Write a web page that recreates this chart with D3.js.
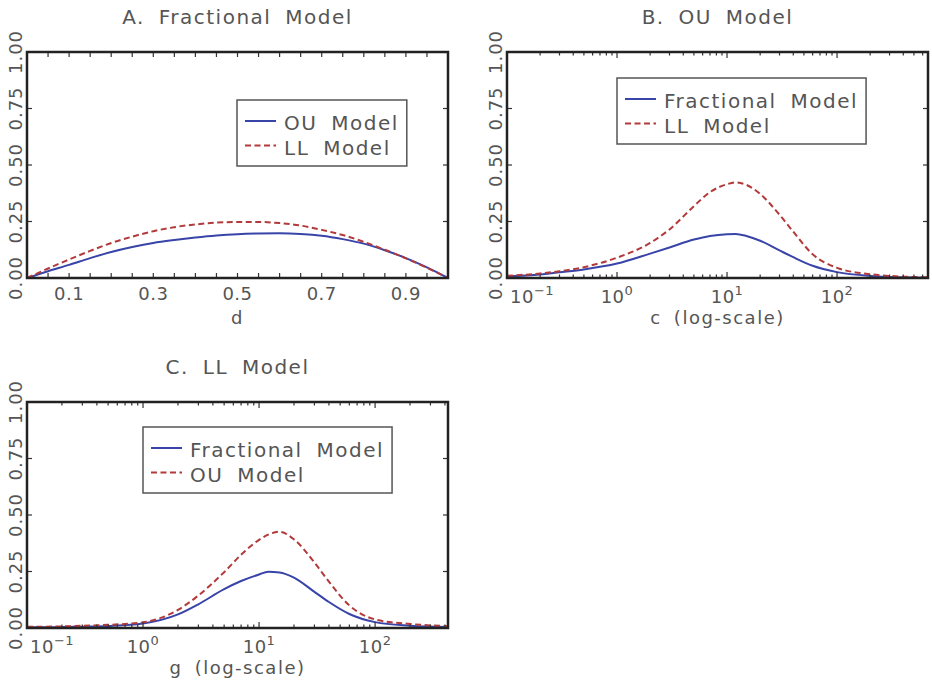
<!DOCTYPE html>
<html>
<head>
<meta charset="utf-8">
<script src="https://cdn.jsdelivr.net/npm/d3@7"></script>
<style>
  body { margin: 0; background: #fff; }
  svg { display: block; }
  text { font-family: "DejaVu Sans", sans-serif; fill: #555; }
</style>
</head>
<body>
<svg id="chart" width="932" height="682"></svg>
<script>
// panel A: fractional model, x = d
const dVals = [0, 0.05, 0.1, 0.15, 0.2, 0.25, 0.3, 0.35, 0.4, 0.45, 0.5, 0.55, 0.6, 0.65, 0.7, 0.75, 0.8, 0.85, 0.9, 0.95, 1];
const fracOU = [0, 0.03, 0.058, 0.088, 0.115, 0.137, 0.155, 0.168, 0.179, 0.188, 0.194, 0.197, 0.198, 0.195, 0.187, 0.172, 0.152, 0.123, 0.088, 0.047, 0];
const fracLL = [0, 0.042, 0.082, 0.12, 0.155, 0.183, 0.207, 0.225, 0.237, 0.245, 0.248, 0.248, 0.243, 0.232, 0.213, 0.19, 0.16, 0.125, 0.087, 0.045, 0];

// panel B: OU model, x = c
const cVals = [0.1, 0.2, 0.3, 0.5, 1, 2, 3, 5, 7, 10, 12, 15, 20, 30, 40, 60, 100, 200, 400, 671];
const ouFrac = [0.007, 0.015, 0.025, 0.038, 0.064, 0.108, 0.135, 0.17, 0.186, 0.194, 0.195, 0.186, 0.165, 0.122, 0.092, 0.054, 0.026, 0.009, 0.003, 0.001];
const ouLL = [0.01, 0.02, 0.03, 0.048, 0.09, 0.155, 0.215, 0.318, 0.38, 0.415, 0.423, 0.412, 0.372, 0.28, 0.205, 0.105, 0.045, 0.017, 0.006, 0.003];

// panel C: LL model, x = g
const gVals = [0.1, 0.2, 0.3, 0.5, 1, 2, 3, 5, 7, 10, 12, 15, 20, 30, 40, 60, 100, 200, 425];
const llFrac = [0.003, 0.004, 0.006, 0.009, 0.02, 0.06, 0.105, 0.172, 0.208, 0.237, 0.249, 0.246, 0.223, 0.16, 0.115, 0.062, 0.026, 0.01, 0.004];
const llOU = [0.005, 0.007, 0.01, 0.014, 0.025, 0.08, 0.144, 0.247, 0.324, 0.39, 0.413, 0.426, 0.392, 0.29, 0.205, 0.1, 0.038, 0.018, 0.008];

const yTicks = [0, 0.25, 0.5, 0.75, 1];
const linTicks = [0.1, 0.3, 0.5, 0.7, 0.9];
const logTicks = [0.1, 1, 10, 100];

const blue = "#3944a8", red = "#b23a3a";

const svg = d3.select("#chart");

const panels = [
  { title: "A. Fractional Model", xlabel: "d", x: 27, y: 52, xs: dVals, log: false, domain: [0, 1],
    series: [{ name: "OU Model", vals: fracOU, color: blue }, { name: "LL Model", vals: fracLL, color: red, dash: true }],
    legend: [210, 48] },
  { title: "B. OU Model", xlabel: "c (log-scale)", x: 507, y: 52, xs: cVals, log: true, domain: [0.1, 671],
    series: [{ name: "Fractional Model", vals: ouFrac, color: blue }, { name: "LL Model", vals: ouLL, color: red, dash: true }],
    legend: [110, 26] },
  { title: "C. LL Model", xlabel: "g (log-scale)", x: 27, y: 402, xs: gVals, log: true, domain: [0.1, 425],
    series: [{ name: "Fractional Model", vals: llFrac, color: blue }, { name: "OU Model", vals: llOU, color: red, dash: true }],
    legend: [116, 25] }
];

const pw = 421, ph = 226;

panels.forEach(p => {
  const g = svg.append("g").attr("transform", `translate(${p.x},${p.y})`);
  const x = (p.log ? d3.scaleLog() : d3.scaleLinear()).domain(p.domain).range([0, pw]);
  const y = d3.scaleLinear().domain([0, 1]).range([ph, 0]);

  // curves
  const line = d3.line().x(d => x(d[0])).y(d => y(d[1])).curve(d3.curveMonotoneX);
  p.series.forEach(s => {
    g.append("path")
      .datum(p.xs.map((v, i) => [v, s.vals[i]]))
      .attr("d", line)
      .attr("fill", "none")
      .attr("stroke", s.color)
      .attr("stroke-width", 2)
      .attr("stroke-dasharray", s.dash ? "6,3.5" : null);
  });

  // x ticks, both edges, pointing in
  let xt;
  if (p.log) {
    xt = [];
    logTicks.concat([1000]).forEach(dec => {
      for (let k = 1; k < 10; k++) {
        const val = dec / 10 * k;
        if (val > p.domain[0] * 1.0001 && val <= p.domain[1]) xt.push({ v: val, major: k === 1 });
      }
    });
  } else {
    xt = d3.range(1, 20).map(i => ({ v: i * 0.05, major: i % 2 === 0 }));
  }
  xt.forEach(t => {
    const len = p.log ? (t.major ? 6 : 3.5) : 5;
    const xx = x(t.v);
    g.append("line").attr("x1", xx).attr("x2", xx).attr("y1", ph).attr("y2", ph - len)
      .attr("stroke", "#333").attr("stroke-width", 1.2);
    g.append("line").attr("x1", xx).attr("x2", xx).attr("y1", 0).attr("y2", len)
      .attr("stroke", "#333").attr("stroke-width", 1.2);
  });

  // y ticks
  yTicks.forEach(v => {
    g.append("line").attr("x1", 0).attr("x2", 5).attr("y1", y(v)).attr("y2", y(v))
      .attr("stroke", "#333").attr("stroke-width", 1.2);
    g.append("line").attr("x1", pw).attr("x2", pw - 5).attr("y1", y(v)).attr("y2", y(v))
      .attr("stroke", "#333").attr("stroke-width", 1.2);
    g.append("text")
      .attr("transform", `translate(-5,${y(v)}) rotate(-90)`)
      .attr("text-anchor", "middle")
      .style("font-size", "18px")
      .style("letter-spacing", "1px")
      .text(d3.format(".2f")(v));
  });

  // frame
  g.append("rect").attr("width", pw).attr("height", ph)
    .attr("fill", "none").attr("stroke", "#222").attr("stroke-width", 2.5);

  // x tick labels
  if (p.log) {
    logTicks.forEach((v, i) => {
      const e = Math.round(Math.log10(v));
      const t = g.append("text")
        .attr("y", ph + 25)
        .style("font-size", "18px")
        .style("letter-spacing", "0.5px");
      t.append("tspan").text("10");
      t.append("tspan").attr("dy", -8).style("font-size", "13px").text(e < 0 ? "\u2212" + (-e) : e);
      const w = t.node().getComputedTextLength();
      // the first label sits inside the left edge
      t.attr("x", i === 0 ? x(v) + 3 : x(v) - w / 2);
    });
  } else {
    linTicks.forEach(v => {
      g.append("text")
        .attr("x", x(v)).attr("y", ph + 22)
        .attr("text-anchor", "middle")
        .style("font-size", "18px")
        .style("letter-spacing", "0.5px")
        .text(d3.format(".1f")(v));
    });
  }

  // x label
  g.append("text")
    .attr("x", pw / 2).attr("y", ph + 46)
    .attr("text-anchor", "middle")
    .style("font-size", "18px")
    .style("letter-spacing", "1.5px")
    .style("word-spacing", "5px")
    .text(p.xlabel);

  // title
  g.append("text")
    .attr("x", pw / 2).attr("y", -28)
    .attr("text-anchor", "middle")
    .style("font-size", "20px")
    .style("letter-spacing", "1.5px")
    .style("word-spacing", "6px")
    .text(p.title);

  // legend
  const lg = g.append("g").attr("transform", `translate(${p.legend[0]},${p.legend[1]})`);
  const box = lg.append("rect").attr("fill", "#fff").attr("stroke", "#555").attr("stroke-width", 1.5);
  let maxW = 0;
  p.series.forEach((s, i) => {
    const by = 30 + i * 24.5;
    lg.append("line").attr("x1", 8).attr("x2", 39).attr("y1", by - 9).attr("y2", by - 9)
      .attr("stroke", s.color).attr("stroke-width", 2)
      .attr("stroke-dasharray", s.dash ? "6,3.5" : null);
    const t = lg.append("text").attr("x", 47).attr("y", by)
      .style("font-size", "20px")
      .style("letter-spacing", "1.5px")
      .style("word-spacing", "6px")
      .text(s.name);
    maxW = Math.max(maxW, t.node().getComputedTextLength());
  });
  box.attr("width", 47 + maxW + 8).attr("height", 66);
});
</script>
</body>
</html>
